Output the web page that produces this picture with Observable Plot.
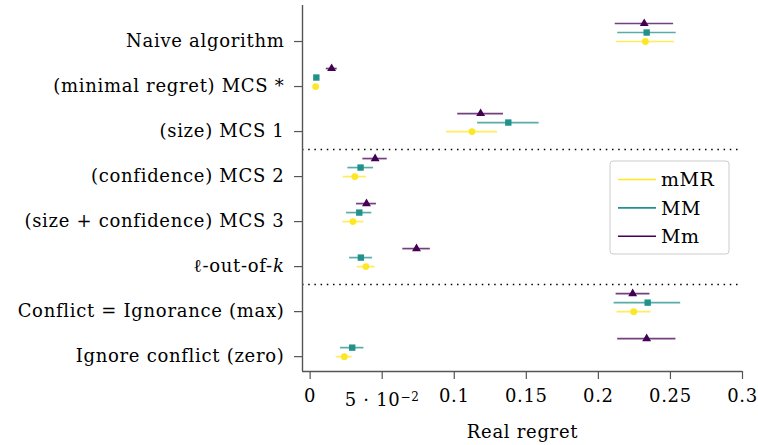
<!DOCTYPE html>
<html>
<head>
<meta charset="utf-8">
<script src="https://cdn.jsdelivr.net/npm/d3@7"></script>
<script src="https://cdn.jsdelivr.net/npm/@observablehq/plot@0.6"></script>
<style>
  body { margin: 0; background: #fff; }
  #chart svg { font-family: "DejaVu Serif", serif; }
</style>
</head>
<body>
<div id="chart"></div>
<script>
const categories = ["Naive algorithm", "(minimal regret) MCS *", "(size) MCS 1", "(confidence) MCS 2",
  "(size + confidence) MCS 3", "ℓ-out-of-k", "Conflict = Ignorance (max)", "Ignore conflict (zero)"];
const series = ["mMR", "MM", "Mm"];
const colors = ["#fde725", "#21918c", "#440154"];
const symbols = ["circle", "square", "triangle"];

const mMR_mean = [0.2326, 0.0038, 0.1123, 0.0310, 0.0297, 0.0387, 0.2245, 0.0237];
const mMR_lo   = [0.2125, 0.0038, 0.0947, 0.0230, 0.0227, 0.0327, 0.2130, 0.0181];
const mMR_hi   = [0.2529, 0.0038, 0.1300, 0.0391, 0.0373, 0.0451, 0.2365, 0.0292];

const MM_mean = [0.2335, 0.0043, 0.1375, 0.0350, 0.0341, 0.0352, 0.2342, 0.0292];
const MM_lo   = [0.2134, 0.0043, 0.1162, 0.0262, 0.0253, 0.0274, 0.2109, 0.0211];
const MM_hi   = [0.2540, 0.0043, 0.1589, 0.0440, 0.0428, 0.0433, 0.2571, 0.0373];

const Mm_mean = [0.2318, 0.0149, 0.1183, 0.0451, 0.0391, 0.0738, 0.2238, 0.2335];
const Mm_lo   = [0.2117, 0.0112, 0.1024, 0.0366, 0.0322, 0.0643, 0.2123, 0.2134];
const Mm_hi   = [0.2522, 0.0188, 0.1342, 0.0535, 0.0460, 0.0834, 0.2358, 0.2538];

const xTicks = [0, 0.05, 0.1, 0.15, 0.2, 0.25, 0.3];
const xTickLabels = ["0", "5 · 10−2", "0.1", "0.15", "0.2", "0.25", "0.3"];
const separators = [2.4, 5.4];

const means = [mMR_mean, MM_mean, Mm_mean];
const los = [mMR_lo, MM_lo, Mm_lo];
const his = [mMR_hi, MM_hi, Mm_hi];
const offsets = [0, -0.2, -0.4];

const rows = [];
series.forEach((s, si) => {
  categories.forEach((c, ci) => {
    rows.push({series: s, si, cat: c, pos: ci + offsets[si], mean: means[si][ci], lo: los[si][ci], hi: his[si][ci]});
  });
});

const xMin = -0.0053, xMax = 0.3;
const yMin = -0.8, yMax = 7.33;
const axisColor = "#555";
const FS = 18;

const marks = [
  Plot.ruleY(separators, {x1: xMin, x2: 0.2985, stroke: "black", strokeWidth: 1.5, strokeDasharray: "1.5,4.7"}),
];
series.forEach((s, si) => {
  const d = rows.filter(r => r.si === si);
  marks.push(Plot.ruleY(d, {y: "pos", x1: "lo", x2: "hi", stroke: colors[si], strokeWidth: 1.7, strokeOpacity: 0.75}));
  marks.push(Plot.dot(d, {y: "pos", x: "mean", fill: colors[si], symbol: symbols[si], r: si === 0 ? 3.4 : (si === 1 ? 3.6 : 3.3)}));
});
marks.push(Plot.ruleX([xMin], {y1: yMin, y2: yMax, stroke: axisColor, strokeWidth: 1.4}));
marks.push(Plot.ruleY([yMax], {x1: xMin, x2: xMax, stroke: axisColor, strokeWidth: 1.4}));
marks.push(Plot.axisX(xTicks, {tickSize: 8, tickPadding: 10, stroke: axisColor, strokeWidth: 1.2, fontSize: FS,
  tickFormat: (d, i) => xTickLabels[xTicks.indexOf(d)], label: "Real regret", labelAnchor: "center", labelArrow: "none", labelOffset: 66}));
marks.push(Plot.axisY(d3.range(categories.length), {tickSize: 8, tickPadding: 10, stroke: axisColor, strokeWidth: 1.2, fontSize: FS,
  tickFormat: i => categories[i], label: null}));

const chart = Plot.plot({
  width: 758,
  height: 445,
  marginLeft: 302,
  marginRight: 16,
  marginTop: 5,
  marginBottom: 74,
  style: {fontFamily: "DejaVu Serif, serif", fontSize: FS + "px", color: "black", background: "white"},
  x: {domain: [xMin, xMax]},
  y: {domain: [yMin, yMax], reverse: true},
  marks
});
document.getElementById("chart").appendChild(chart);

const svg = d3.select(chart);
svg.selectAll("text").attr("letter-spacing", "0.7px");
// math formatting for special labels
svg.selectAll("text").each(function() {
  const t = d3.select(this);
  const txt = t.text();
  if (txt === "ℓ-out-of-k") {
    t.text(null);
    t.append("tspan").text("ℓ-out-of-");
    t.append("tspan").attr("font-style", "italic").text("k");
  } else if (txt === "5 · 10−2") {
    t.text(null);
    t.append("tspan").text("5 · 10");
    t.append("tspan").attr("font-size", "12px").attr("dy", "-0.45em").text("−2");
    t.attr("transform", (t.attr("transform") || "") + " translate(0,4)");
  }
});

// legend
const lg = svg.append("g").attr("transform", "translate(610,161)");
lg.append("rect").attr("width", 119).attr("height", 93).attr("rx", 3)
  .attr("fill", "white").attr("fill-opacity", 0.8).attr("stroke", "#ccc").attr("stroke-width", 1);
series.forEach((s, si) => {
  const y = 18.5 + si * 28.4;
  lg.append("line").attr("x1", 8).attr("x2", 46).attr("y1", y).attr("y2", y)
    .attr("stroke", colors[si]).attr("stroke-width", 1.6);
  lg.append("text").attr("x", 51).attr("y", y).attr("dy", "0.35em").attr("text-anchor", "start")
    .attr("font-size", "19px").attr("letter-spacing", "0.5px").attr("fill", "black").text(s);
});
</script>
</body>
</html>
